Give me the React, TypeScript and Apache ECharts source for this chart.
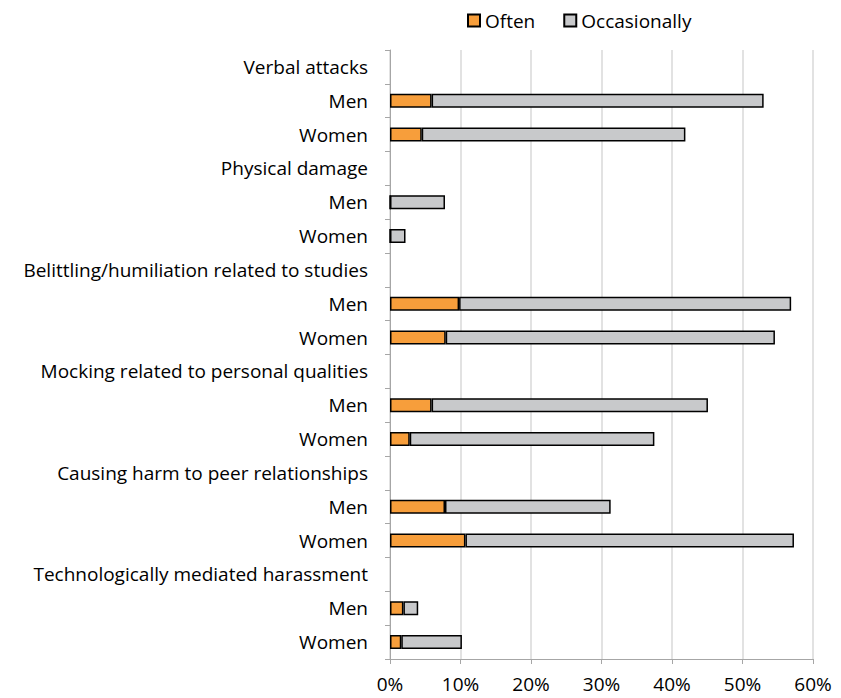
import React, { useEffect, useRef } from "react";
import * as echarts from "echarts";

const categories = [
  "Verbal attacks", "Men", "Women",
  "Physical damage", "Men", "Women",
  "Belittling/humiliation related to studies", "Men", "Women",
  "Mocking related to personal qualities", "Men", "Women",
  "Causing harm to peer relationships", "Men", "Women",
  "Technologically mediated harassment", "Men", "Women",
];

const often = [
  null, 5.9, 4.5,
  null, 0, 0,
  null, 9.8, 7.9,
  null, 5.9, 2.8,
  null, 7.8, 10.7,
  null, 1.9, 1.6,
];

const occasionally = [
  null, 47.1, 37.4,
  null, 7.8, 2.2,
  null, 47.1, 46.7,
  null, 39.2, 34.7,
  null, 23.5, 46.6,
  null, 2.1, 8.6,
];

const FONT = "Open Sans";

export default function App() {
  const ref = useRef<HTMLDivElement>(null);
  useEffect(() => {
    if (!ref.current) return;
    const chart = echarts.init(ref.current, null, { renderer: "svg" });
    chart.setOption({
      animation: false,
      textStyle: { fontFamily: FONT },
      legend: {
        top: 6,
        left: 462,
        icon: "rect",
        itemWidth: 12,
        itemHeight: 12,
        itemGap: 28,
        textStyle: { fontSize: 19, color: "#000", fontFamily: FONT },
        data: ["Often", "Occasionally"],
      },
      grid: { left: 390, right: 28, top: 50, bottom: 39 },
      xAxis: {
        type: "value",
        min: 0,
        max: 60,
        interval: 10,
        axisLabel: {
          formatter: "{value}%",
          fontSize: 19,
          color: "#000",
          margin: 15,
          fontFamily: FONT,
        },
        axisLine: { show: true, lineStyle: { color: "#a6a6a6", width: 1 } },
        axisTick: { show: true, length: 5, lineStyle: { color: "#a6a6a6" } },
        splitLine: { show: true, lineStyle: { color: "#d9d9d9", width: 1.5 } },
      },
      yAxis: {
        type: "category",
        inverse: true,
        data: categories,
        axisLabel: { fontSize: 19, color: "#000", margin: 22, fontFamily: FONT },
        axisLine: { show: true, lineStyle: { color: "#a6a6a6", width: 1 } },
        axisTick: { show: true, length: 5, lineStyle: { color: "#a6a6a6" } },
      },
      series: [
        {
          name: "Often",
          type: "bar",
          stack: "t",
          data: often,
          barWidth: 14,
          itemStyle: { color: "#F79E3B", borderColor: "#000", borderWidth: 1.5 },
        },
        {
          name: "Occasionally",
          type: "bar",
          stack: "t",
          data: occasionally,
          barWidth: 14,
          itemStyle: { color: "#C8C9CB", borderColor: "#000", borderWidth: 1.5 },
        },
      ],
    });
    return () => chart.dispose();
  }, []);
  return (
    <div
      ref={ref}
      style={{ position: "absolute", left: 0, top: 0, width: 841, height: 698 }}
    />
  );
}
